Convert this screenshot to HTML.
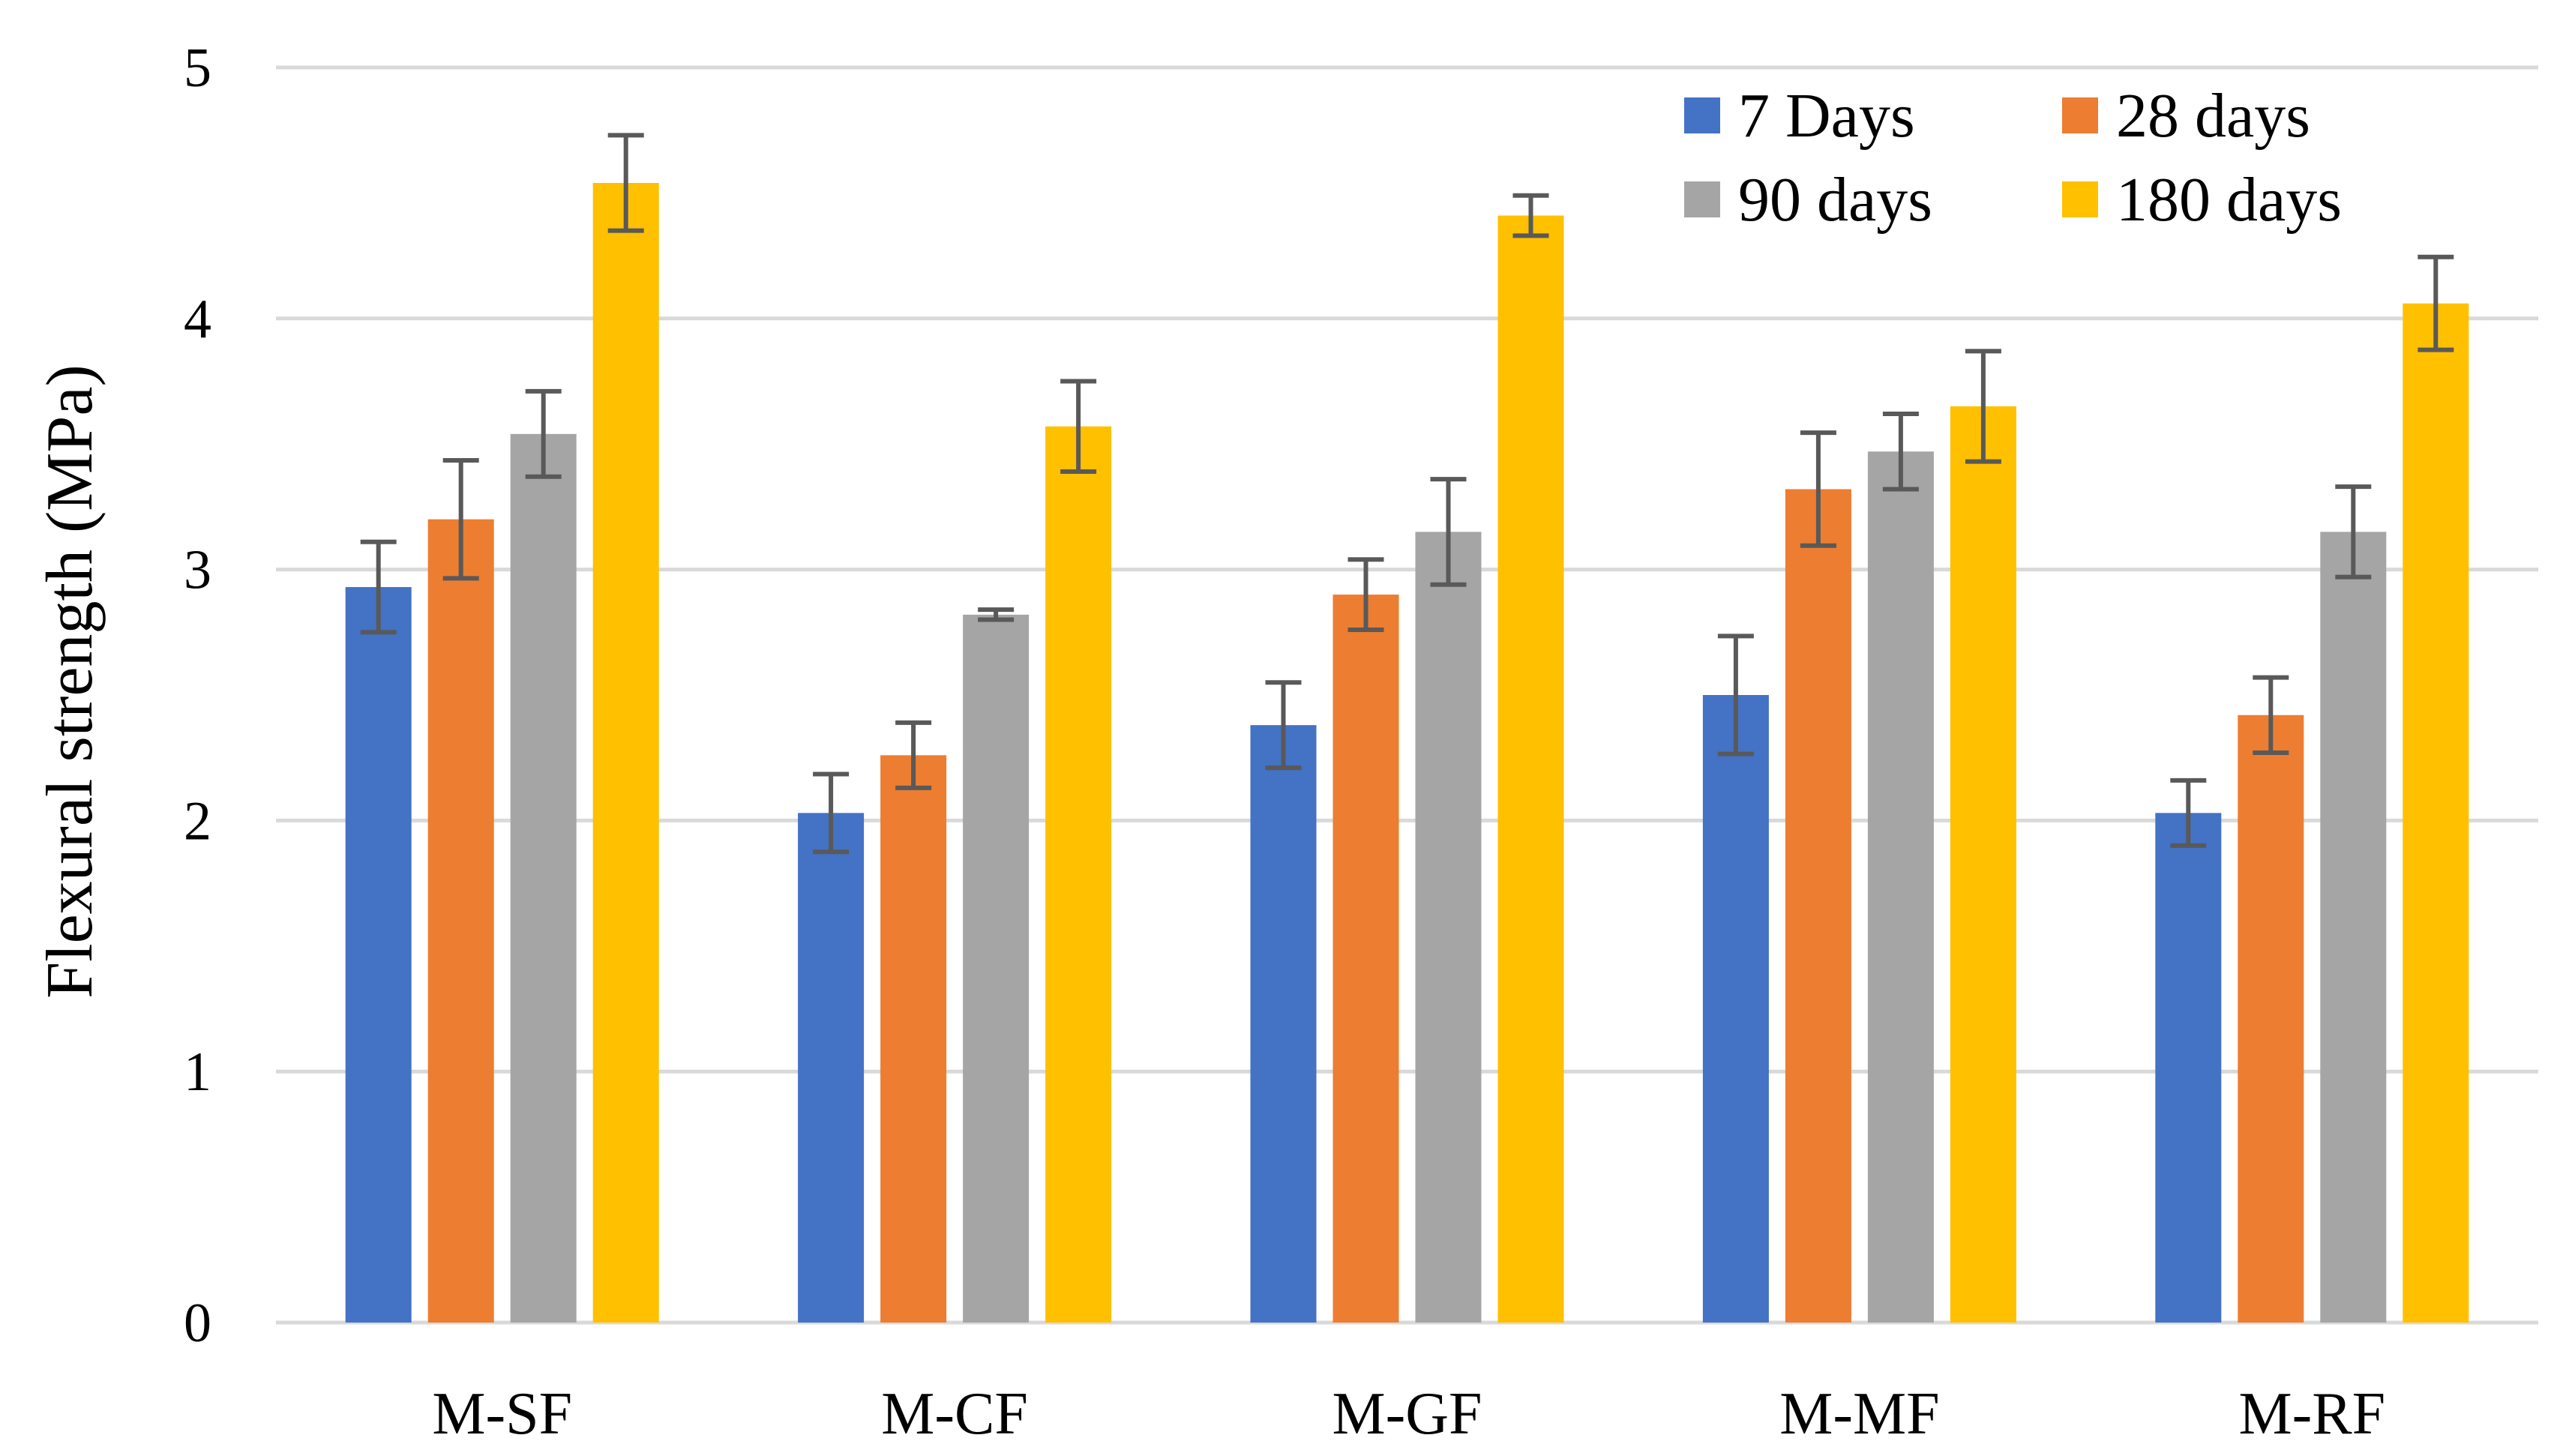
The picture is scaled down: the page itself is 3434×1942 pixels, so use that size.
<!DOCTYPE html>
<html><head><meta charset="utf-8"><style>
html,body{margin:0;padding:0;background:#fff;}
svg{display:block;font-family:"Liberation Serif",serif;}
</style></head><body>
<svg id="chart" width="3434" height="1942" viewBox="0 0 3434 1942">
<g id="grid"></g>
<g id="yticks"></g>
<g id="bars"></g>
<g id="xlabels"></g>
<text x="0" y="0" transform="translate(122,909) rotate(-90)" text-anchor="middle" font-size="88" fill="#000">Flexural strength (MPa)</text>
<g id="legend"></g>
</svg>
<script>
const categories = ["M-SF","M-CF","M-GF","M-MF","M-RF"];
const seriesNames = ["7 Days","28 days","90 days","180 days"];
const seriesColors = ["#4472c4","#ed7d31","#a5a5a5","#ffc000"];
const v7 = [2.93,2.03,2.38,2.50,2.03];
const v28 = [3.20,2.26,2.90,3.32,2.42];
const v90 = [3.54,2.82,3.15,3.47,3.15];
const v180 = [4.54,3.57,4.41,3.65,4.06];
const e7 = [0.18,0.155,0.17,0.235,0.13];
const e28 = [0.235,0.13,0.14,0.225,0.15];
const e90 = [0.17,0.02,0.21,0.15,0.18];
const e180 = [0.19,0.18,0.08,0.22,0.185];
const yTicks = [0,1,2,3,4,5];

const values=[v7,v28,v90,v180], errs=[e7,e28,e90,e180];
const NS="http://www.w3.org/2000/svg";
const left=368,right=3385,y0=1764,yTop=90,yMax=5;
const yScale=v=>y0-(v/yMax)*(y0-yTop);
const groupW=(right-left)/categories.length;
const xCenter=i=>left+groupW*(i+0.5);
const barW=88,barStep=110;
function mk(t,a,p){const e=document.createElementNS(NS,t);for(const k in a)e.setAttribute(k,a[k]);p.appendChild(e);return e;}
const grid=document.getElementById('grid'),yt=document.getElementById('yticks');
yTicks.forEach(t=>{
  const l=mk('line',{x1:left,x2:right,y1:yScale(t),y2:yScale(t),stroke:'#d9d9d9','stroke-width':5},grid);
  
  
  const tx=mk('text',{x:282,y:yScale(t)+25,'text-anchor':'end','font-size':74,fill:'#000'},yt);
  tx.textContent=t;
  
  
});
const bars=document.getElementById('bars'),xl=document.getElementById('xlabels');
categories.forEach((c,i)=>{
  values.forEach((s,j)=>{
    const cx=xCenter(i)+(j-1.5)*barStep;
    const r=mk('rect',{x:cx-barW/2,y:yScale(s[i]),width:barW,height:y0-yScale(s[i]),fill:seriesColors[j]},bars);
    
    
    const hi=yScale(s[i]+errs[j][i]),lo=yScale(s[i]-errs[j][i]);
    const g=mk('g',{stroke:'#595959','stroke-width':6},bars);
    
    
    mk('line',{x1:cx,x2:cx,y1:hi,y2:lo},g);
    mk('line',{x1:cx-24,x2:cx+24,y1:hi,y2:hi},g);
    mk('line',{x1:cx-24,x2:cx+24,y1:lo,y2:lo},g);
  });
  const t=mk('text',{x:xCenter(i),y:1912,'text-anchor':'middle','font-size':80,fill:'#000'},xl);
  t.textContent=c;
  
  
});
const lg=document.getElementById('legend');
const lx=[2246,2750],ly=[154,266];
seriesNames.forEach((n,k)=>{
  const col=k%2,row=Math.floor(k/2);
  const g=mk('g',{},lg);
  
  
  mk('rect',{x:lx[col],y:ly[row]-24,width:48,height:48,fill:seriesColors[k]},g);
  const t=mk('text',{x:lx[col]+72,y:ly[row]+28,'font-size':84,fill:'#000'},g);
  t.textContent=n;
});
</script>
</body></html>
